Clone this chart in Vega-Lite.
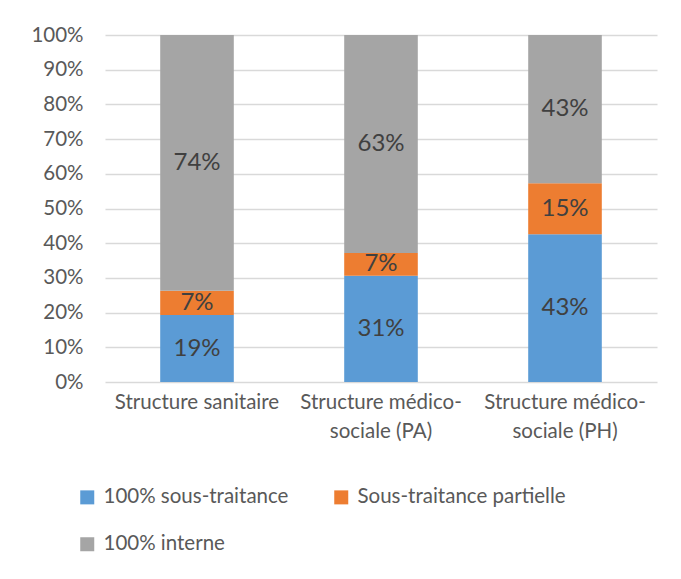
{
  "$schema": "https://vega.github.io/schema/vega-lite/v6.json",
  "width": 552,
  "height": 347,
  "autosize": "none",
  "padding": {"left": 105, "top": 35, "right": 24, "bottom": 197},
  "background": "white",
  "data": {
    "values": [
      {"cat": "Structure sanitaire", "serie": "100% sous-traitance", "ord": 1, "value": 0.193},
      {"cat": "Structure sanitaire", "serie": "Sous-traitance partielle", "ord": 2, "value": 0.070},
      {"cat": "Structure sanitaire", "serie": "100% interne", "ord": 3, "value": 0.737},
      {"cat": "Structure médico-sociale (PA)", "serie": "100% sous-traitance", "ord": 1, "value": 0.306},
      {"cat": "Structure médico-sociale (PA)", "serie": "Sous-traitance partielle", "ord": 2, "value": 0.066},
      {"cat": "Structure médico-sociale (PA)", "serie": "100% interne", "ord": 3, "value": 0.628},
      {"cat": "Structure médico-sociale (PH)", "serie": "100% sous-traitance", "ord": 1, "value": 0.426},
      {"cat": "Structure médico-sociale (PH)", "serie": "Sous-traitance partielle", "ord": 2, "value": 0.147},
      {"cat": "Structure médico-sociale (PH)", "serie": "100% interne", "ord": 3, "value": 0.427}
    ]
  },
  "transform": [
    {"stack": "value", "groupby": ["cat"], "sort": [{"field": "ord"}], "as": ["y0", "y1"]},
    {"calculate": "(datum.y0 + datum.y1) / 2", "as": "ymid"}
  ],
  "encoding": {
    "x": {
      "field": "cat",
      "type": "nominal",
      "sort": null,
      "scale": {"paddingInner": 0.6, "paddingOuter": 0.3},
      "axis": {
        "title": null,
        "labelAngle": 0,
        "domain": false,
        "ticks": false,
        "labelFont": "Lato",
        "labelFontSize": 20.5,
        "labelColor": "#595959",
        "labelPadding": 10,
        "labelLimit": 400,
        "labelLineHeight": 29,
        "labelOverlap": false,
        "labelExpr": "split(replace(datum.label, 'médico-', 'médico-|'), '|')"
      }
    }
  },
  "layer": [
    {
      "mark": {"type": "bar"},
      "encoding": {
        "y": {
          "field": "y0",
          "type": "quantitative",
          "scale": {"domain": [0, 1], "nice": false},
          "axis": {
            "title": null,
            "values": [0, 0.1, 0.2, 0.3, 0.4, 0.5, 0.6, 0.7, 0.8, 0.9, 1],
            "format": ".0%",
            "domain": false,
            "ticks": false,
            "grid": true,
            "gridColor": "#d9d9d9",
            "gridWidth": 1.3,
            "labelFont": "Lato",
            "labelFontSize": 20.5,
            "labelColor": "#595959",
            "labelPadding": 22,
            "labelOverlap": false
          }
        },
        "y2": {"field": "y1"},
        "color": {
          "field": "serie",
          "type": "nominal",
          "scale": {
            "domain": ["100% sous-traitance", "Sous-traitance partielle", "100% interne"],
            "range": ["#5b9bd5", "#ed7d31", "#a5a5a5"]
          },
          "legend": {
            "title": null,
            "orient": "none",
            "legendX": -28,
            "legendY": 452,
            "direction": "horizontal",
            "columns": 2,
            "columnPadding": 42,
            "rowPadding": 26,
            "symbolType": "square",
            "symbolSize": 196,
            "symbolStrokeWidth": 0,
            "labelFont": "Lato",
            "labelFontSize": 20.5,
            "labelColor": "#595959",
            "labelOffset": 6,
            "labelLimit": 400
          }
        }
      }
    },
    {
      "mark": {"type": "text", "font": "Lato", "fontSize": 24, "color": "#404040", "baseline": "middle", "align": "center"},
      "encoding": {
        "y": {
          "field": "ymid",
          "type": "quantitative",
          "axis": {
            "title": null,
            "values": [0, 0.1, 0.2, 0.3, 0.4, 0.5, 0.6, 0.7, 0.8, 0.9, 1],
            "format": ".0%",
            "domain": false,
            "ticks": false,
            "grid": true,
            "gridColor": "#d9d9d9",
            "gridWidth": 1.3,
            "labelFont": "Lato",
            "labelFontSize": 20.5,
            "labelColor": "#595959",
            "labelPadding": 22,
            "labelOverlap": false
          }
        },
        "text": {"field": "value", "type": "quantitative", "format": ".0%"}
      }
    }
  ],
  "config": {
    "view": {"stroke": null},
    "axisY": {"labelOverlap": false}
  }
}
